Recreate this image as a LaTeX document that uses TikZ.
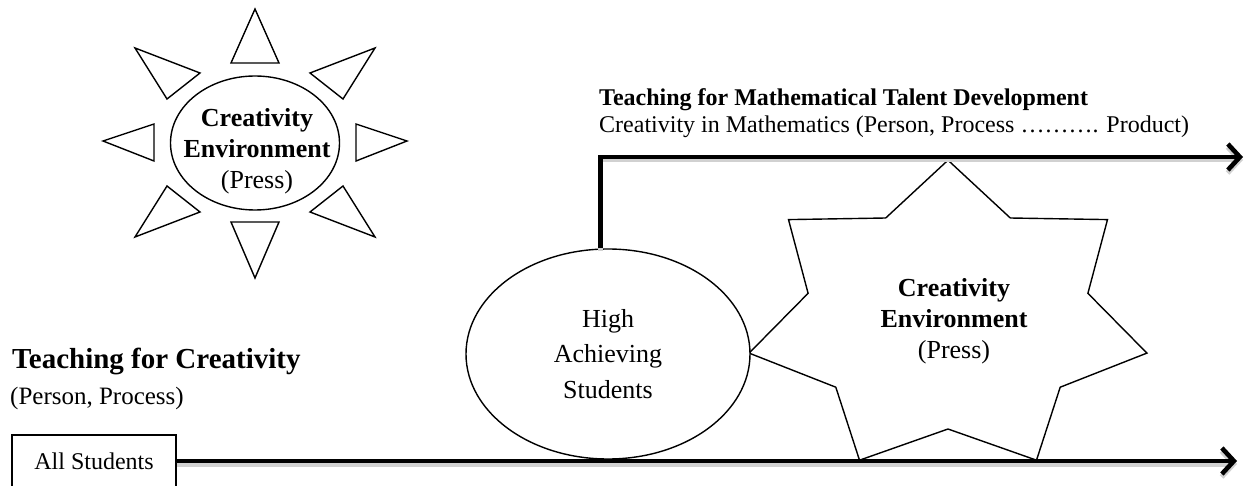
\documentclass[tikz,border=0pt]{standalone}
\usepackage{fontspec}
\setmainfont{Liberation Serif}
\usetikzlibrary{arrows.meta,shapes.geometric}
\begin{document}
\begin{tikzpicture}[x=1pt,y=-1pt,
  thinline/.style={line width=1.4pt},
  arr/.style={line width=4.6pt,-{Straight Barb[length=12pt,width=26pt]},
    preaction={draw=black!18,line width=5pt,transform canvas={yshift=-3pt}}},
  txt/.style={inner sep=0pt,align=center},
  body/.style={font=\fontsize{24}{29}\selectfont},
]
\useasboundingbox (0,0) rectangle (1248,486);
\clip (0,0) rectangle (1248,486);

% ---- sun (upper left) ----
\node[draw,thinline,ellipse,minimum width=169pt,minimum height=134pt,inner sep=0pt] (sun) at (255,143) {};
\node[txt,font=\fontsize{26}{31}\selectfont] (suntxt) at (257,151)
  {\textbf{Creativity}\\\textbf{Environment}\\(Press)};
\begin{scope}[thinline,line join=miter]
\draw (255,9) -- (231,63) -- (279,63) -- cycle;
\draw (255,278) -- (231,222) -- (279,222) -- cycle;
\draw (103,141) -- (154,124) -- (154,161) -- cycle;
\draw (407,141) -- (356,124) -- (356,161) -- cycle;
\draw (135,48) -- (200,73) -- (167,99) -- cycle;
\draw (375,48) -- (310,73) -- (343,99) -- cycle;
\draw (135,237) -- (200,212) -- (167,186) -- cycle;
\draw (375,237) -- (310,212) -- (343,186) -- cycle;
\end{scope}

% ---- headings ----
\node[anchor=west,inner sep=0pt,font=\bfseries\fontsize{24}{29}\selectfont] (h2) at (599,100)
  {Teaching for Mathematical Talent Development};
\node[anchor=west,inner sep=0pt,body] (h2s) at (599,127)
  {Creativity in Mathematics (Person, Process ………. Product)};
\node[anchor=west,inner sep=0pt,font=\bfseries\fontsize{29}{34}\selectfont] (h1) at (12,361)
  {Teaching for Creativity};
\node[anchor=west,inner sep=0pt,font=\fontsize{25}{30}\selectfont] (h1s) at (10,398)
  {(Person, Process)};

% ---- star (7 points) ----
\draw[thinline,line join=miter,fill=white]
  (948,160.2) -- (885.7,218) -- (788.5,219.6) -- (808.1,293.3) -- (749.1,353.1)
  -- (835.8,387.2) -- (859.5,460.2) -- (948,429) -- (1036.5,460.2) -- (1060.2,387.2)
  -- (1146.9,353.1) -- (1087.9,293.3) -- (1107.5,219.6) -- (1010.3,218) -- cycle;
\node[txt,font=\fontsize{26}{31}\selectfont] (startxt) at (954,321)
  {\textbf{Creativity}\\\textbf{Environment}\\(Press)};

% ---- high achieving ellipse ----
\node[draw,thinline,ellipse,fill=white,minimum width=284pt,minimum height=210pt,inner sep=0pt] (hi) at (608,354) {};
\node[txt,font=\fontsize{26}{35.5}\selectfont] (hitxt) at (608,354)
  {High\\Achieving\\Students};

% ---- all students box ----
\node[draw,thinline,minimum width=164pt,minimum height=52pt,inner sep=0pt,body] (all) at (94,461)
  {All Students};

% ---- arrows ----
\coordinate (tend) at (1243,157);
\coordinate (bend) at (1237,461);
\draw[arr] (hi.94) |- (tend);
\draw[arr] (all.east) -- (all.east -| bend);
\end{tikzpicture}
\end{document}
